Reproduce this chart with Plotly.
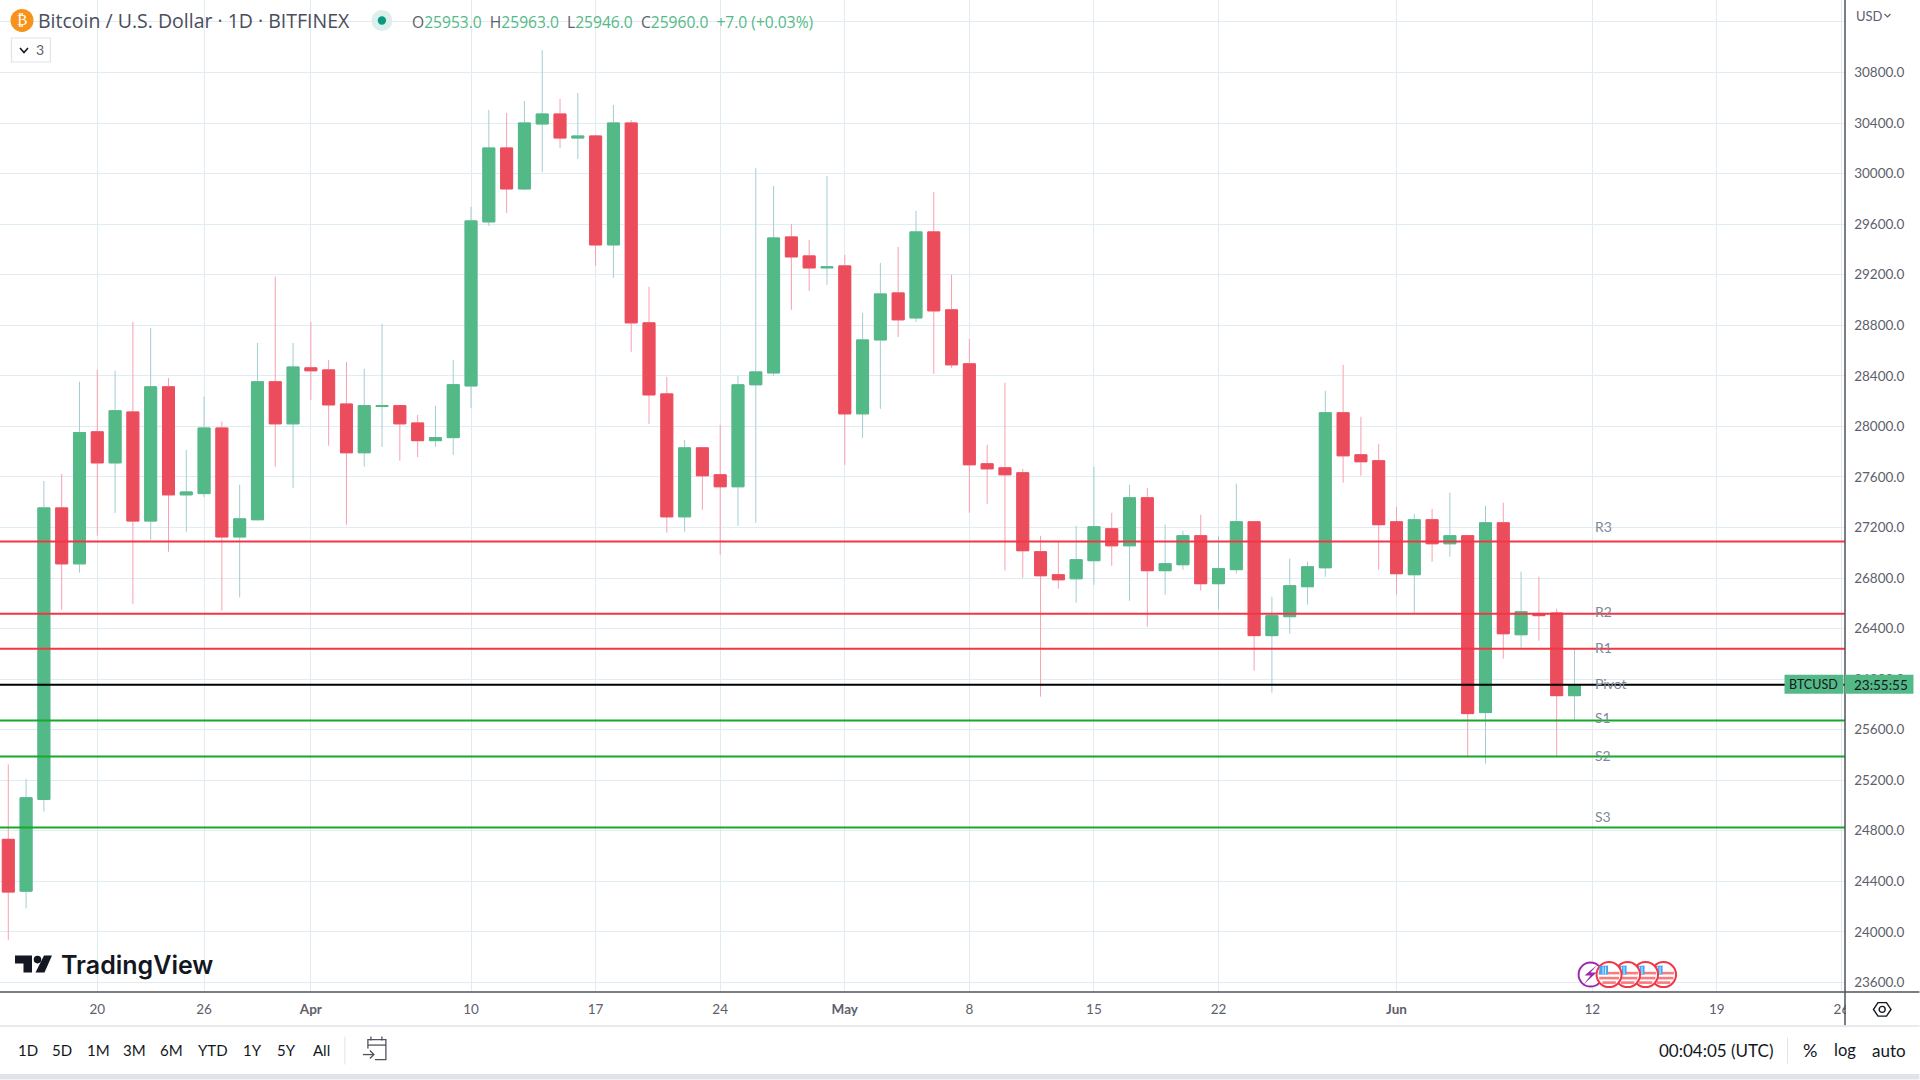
import math
import pandas as pd
import plotly.graph_objects as go

# ---------- data ----------
dates = pd.date_range("2023-03-15", periods=89).strftime("%Y-%m-%d").tolist()
opens = [24732,24322,25048,27355,26912,27957,27711,28114,27251,28313,27458,27468,27987,27125,27261,28353,28020,
         28463,28447,28177,27791,28157,28164,28027,27887,27911,28320,29618,30203,29879,30393,30472,30282,30298,29436,
         30401,28819,28257,27284,27830,27617,27522,28329,28423,29499,29349,29254,
         29270,28099,28684,29056,28858,29539,28922,28495,27704,27672,27633,27008,26826,26794,26937,27190,27055,27435,
         26858,26905,27135,26755,26866,27245,26344,26494,26731,26881,28108,27775,27728,
         27245,26826,27261,27071,27135,25735,27237,26351,26517,26523,25869]
highs = [25324,25211,27568,27624,28353,28447,28440,28826,28780,28383,27814,28234,28037,27538,28660,29185,28660,
         28826,28526,28510,28457,28810,28170,28090,28164,28526,29739,30504,30480,30575,30978,30591,30638,30306,30543,
         30425,29104,28392,27893,27830,28012,28400,30045,29903,29602,29475,29982,
         29357,28898,29294,29420,29705,29855,29199,28692,27854,28345,27664,27134,27087,27214,27680,27316,27538,27514,
         27222,27174,27300,27135,27546,27245,26652,26953,26929,28282,28487,28076,27862,
         27364,27309,27348,27475,27142,27372,27395,26850,26810,26557,26241]
lows = [23935,24186,24951,26549,26842,27135,27315,26596,27102,27008,27165,27441,26542,26646,27255,27681,27514,
        28210,27847,27222,27681,27837,27728,27757,27837,27774,28147,29586,29689,29870,30013,30203,30116,29270,29175,
        28590,28020,27158,27166,27340,26984,27213,27237,28400,28922,29072,29120,
        27696,27909,28139,28708,28827,28416,28463,27316,27387,26860,26802,25861,26715,26604,26747,26897,26620,26415,
        26668,26866,26700,26549,26834,26067,25893,26359,26589,26810,27554,27609,26866,
        26668,26525,26929,26968,25386,25331,26161,26248,26304,25386,25679]
closes = [24315,25061,27355,26912,27951,27711,28124,27251,28313,27458,27481,27987,27125,27268,28353,28020,28470,
          28440,28170,27791,28164,28164,28020,27887,27911,28330,29626,30203,29879,30401,30472,30282,30298,29436,30401,
          28819,28249,27284,27830,27609,27522,28329,28431,29491,29341,29254,29262,
          28099,28684,29048,28843,29539,28914,28487,27696,27664,27617,27016,26818,26786,26945,27206,27055,27435,26858,
          26913,27135,26755,26874,27245,26344,26502,26739,26889,28108,27767,27720,27222,
          26834,27261,27071,27135,25727,27237,26359,26533,26502,25869,25956]

level_names = ["R3", "R2", "R1", "Pivot", "S1", "S2", "S3"]
level_values = [27088, 26517, 26240, 25956, 25672, 25388, 24826]
level_label_values = [27205, 26535, 26250, 25966, 25700, 25394, 24915]
level_colors = ["#f23645", "#f23645", "#f23645", "#000000", "#18a82a", "#18a82a", "#18a82a"]

price_ticks = [23600,24000,24400,24800,25200,25600,26000,26400,26800,27200,27600,28000,28400,28800,29200,29600,30000,30400,30800,31200]
price_labels = [f"{p}.0" for p in price_ticks[:-1]] + [""]
date_ticks = ["2023-03-20","2023-03-26","2023-04-01","2023-04-10","2023-04-17","2023-04-24","2023-05-01","2023-05-08",
              "2023-05-15","2023-05-22","2023-06-01","2023-06-12","2023-06-19","2023-06-26"]
date_labels = ["20","26","<b>Apr</b>","10","17","24","<b>May</b>","8","15","22","<b>Jun</b>","12","19","26"]
range_buttons = ["1D","5D","1M","3M","6M","YTD","1Y","5Y","All"]
range_button_x = [28,62.5,99,135,172,213,253,287,322]

x_range = ["2023-03-14 12:49", "2023-06-26 04:48"]
y_range = [23524, 31374]

GREEN, RED = "#53b987", "#ec4d5d"
WICK_G, WICK_R = "#a3cdd1", "#f8a0ae"
FONT = "Lato"
GREY = "#5d606b"
DARK = "#131722"

# ---------- pixel helpers for page furniture ----------
PW, PH = 1845.5, 992.4
px = lambda x: x / PW
py = lambda y: 1 - y / PH

shapes = []
ann = []

def rect(x0, y0, x1, y1, fill, line=None, lw=0):
    shapes.append(dict(type="rect", xref="paper", yref="paper", x0=px(x0), x1=px(x1), y0=py(y0), y1=py(y1),
                       fillcolor=fill, line=dict(color=line or fill, width=lw), layer="above"))

def seg(x0, y0, x1, y1, color, lw=1):
    shapes.append(dict(type="line", xref="paper", yref="paper", x0=px(x0), x1=px(x1), y0=py(y0), y1=py(y1),
                       line=dict(color=color, width=lw), layer="above"))

def circ(cx, cy, r, fill, line=None, lw=0):
    shapes.append(dict(type="circle", xref="paper", yref="paper", x0=px(cx-r), x1=px(cx+r), y0=py(cy-r), y1=py(cy+r),
                       fillcolor=fill, line=dict(color=line or fill, width=lw), layer="above"))

def poly(pts, fill=None, line=None, lw=0, close=True):
    d = "M" + " L".join(f"{px(a):.6f},{py(b):.6f}" for a, b in pts) + (" Z" if close else "")
    shapes.append(dict(type="path", xref="paper", yref="paper", path=d, fillcolor=fill or "rgba(0,0,0,0)",
                       line=dict(color=line or "rgba(0,0,0,0)", width=lw), layer="above"))

def text(x, y, s, size=14, color=GREY, anchor="center", family=FONT, weight=None):
    f = dict(size=size, color=color, family=family)
    if weight:
        f["weight"] = weight
    ann.append(dict(xref="paper", yref="paper", x=px(x), y=py(y), text=s, showarrow=False, xanchor=anchor,
                    yanchor="middle", font=f, borderpad=0, borderwidth=0))

# ---------- figure ----------
fig = go.Figure()
fig.add_trace(go.Candlestick(x=dates, open=opens, high=highs, low=lows, close=closes,
                             increasing=dict(line=dict(color=WICK_G, width=1), fillcolor=WICK_G),
                             decreasing=dict(line=dict(color=WICK_R, width=1), fillcolor=WICK_R),
                             hoverinfo="skip", showlegend=False))
body_hi = [max(a, b) for a, b in zip(opens, closes)]
body_lo = [min(a, b) for a, b in zip(opens, closes)]
fig.add_trace(go.Candlestick(x=dates, open=opens, high=body_hi, low=body_lo, close=closes,
                             increasing=dict(line=dict(color=GREEN, width=1), fillcolor=GREEN),
                             decreasing=dict(line=dict(color=RED, width=1), fillcolor=RED),
                             hoverinfo="skip", showlegend=False))
for name, val, col in zip(level_names, level_values, level_colors):
    fig.add_trace(go.Scatter(x=x_range, y=[val, val], mode="lines", name=name, line=dict(color=col, width=2),
                             hoverinfo="skip", showlegend=False))
for name, val in zip(level_names, level_label_values):
    ann.append(dict(x="2023-06-12", y=val, xref="x", yref="y", text=name, showarrow=False, xanchor="left",
                    xshift=1, yanchor="middle", font=dict(size=14, color="#7c8a99", family=FONT)))

# white strip that clips the last date label at the price axis
rect(1846.5, 993.5, 1920, 1025, "#ffffff")
# axis and toolbar rules
seg(1845.5, 0, 1845.5, 1026, "#50535e", 1.5)
seg(0, 992.4, 1920, 992.4, "#50535e", 1.5)
seg(0, 1026.5, 1920, 1026.5, "#e0e3eb", 1.5)
rect(0, 1074.5, 1920, 1080, "#e0e3eb")
seg(345, 1037, 345, 1065, "#e0e3eb", 1)
seg(1788, 1038, 1788, 1064, "#e0e3eb", 1)

# header
circ(22, 20.5, 11.5, "#f7931a")
text(22, 20.5, "₿", 15, "#ffffff", family="DejaVu Sans")
text(38.5, 21, "Bitcoin / U.S. Dollar · 1D · BITFINEX", 19.5, "#4a4e59", "left", family="Open Sans")
circ(382, 20.5, 10.5, "#dcefec")
circ(382, 20.5, 4.2, "#089981")
G = GREEN
S = GREY
ohlc = (f"<span style='color:{S}'>O</span>25953.0  <span style='color:{S}'>H</span>25963.0  "
        f"<span style='color:{S}'>L</span>25946.0  <span style='color:{S}'>C</span>25960.0  +7.0 (+0.03%)").replace("  ", "&nbsp;&nbsp;")
text(412.5, 22, ohlc, 15.6, G, "left", family="Open Sans")
shapes.append(dict(type="rect", xref="paper", yref="paper", x0=px(11.5), x1=px(50.5), y0=py(38), y1=py(62),
                   fillcolor="#ffffff", line=dict(color="#e0e3eb", width=1.2), layer="above"))
poly([(20, 48), (24, 52.5), (28, 48)], None, DARK, 1.6, close=False)
text(40, 50, "3", 14, GREY)
text(1870, 16, "USD", 13, GREY)
poly([(1885, 14), (1888, 17), (1891, 14)], None, GREY, 1.2, close=False)

# price badge
rect(1785, 675, 1844, 694, GREEN)
rect(1845.5, 675, 1914, 694, GREEN)
text(1814, 684.8, "BTCUSD", 12.5, DARK)
text(1882, 684.8, "23:55:55", 13.5, DARK)

# event icons
circ(1591, 975, 12, "#ffffff", "#9c27b0", 2)
poly([(1598, 965), (1585, 976), (1591, 976), (1584, 985), (1597, 973), (1591, 973)], "#9c27b0")
for cx in [1664, 1646, 1628, 1609.5]:
    circ(cx, 975, 12.5, "#ffffff", "#f23645", 2)
    for dy in [-1.5, 3.5, 8]:
        h = math.sqrt(max(10.5**2 - dy**2, 0))
        seg(cx - h, 975 + dy, cx + h, 975 + dy, "#f77c80", 2.6)
    poly([(cx - 9.5, 966.5), (cx - 1, 966), (cx - 1, 975), (cx - 10, 975)], "#42a5f5")
    seg(cx - 6, 967, cx - 6, 974.5, "#ffffff", 0.8)
    seg(cx - 3.5, 967, cx - 3.5, 974.5, "#ffffff", 0.8)

# logo
poly([(15, 956), (32, 956), (32, 973), (23.5, 973), (23.5, 964), (15, 964)], DARK)
circ(37.5, 960, 3.8, DARK)
poly([(44, 956), (52, 956), (44.5, 973), (35.5, 973)], DARK)
text(61, 965, "TradingView", 25, DARK, "left", family="Inter", weight=600)

# bottom toolbar
for lab, x in zip(range_buttons, range_button_x):
    text(x, 1050.7, lab, 15, DARK)
poly([(378, 1040), (386, 1040), (386, 1060), (375, 1060)], None, "#50535e", 1.3, close=False)
poly([(368, 1049), (368, 1040), (378, 1040)], None, "#50535e", 1.3, close=False)
seg(368, 1045.5, 386, 1045.5, "#50535e", 1.3)
seg(371, 1037, 371, 1041, "#50535e", 1.3)
seg(382, 1037, 382, 1041, "#50535e", 1.3)
poly([(363, 1055), (374, 1055)], None, "#50535e", 1.3, close=False)
poly([(370, 1051), (374, 1055), (370, 1059)], None, "#50535e", 1.3, close=False)
text(1716, 1050.5, "00:04:05 (UTC)", 17, DARK)
text(1810, 1050.5, "%", 18, DARK)
text(1845.7, 1050.5, "log", 16.5, DARK)
text(1890, 1050.5, "auto", 17, DARK)
poly([(1874, 1009.8), (1878.5, 1003), (1887, 1003), (1891.5, 1009.8), (1887, 1016.5), (1878.5, 1016.5)], "#ffffff", DARK, 1.4)
circ(1882.7, 1009.8, 3, "#ffffff", DARK, 1.4)

fig.update_layout(
    width=1920, height=1080, margin=dict(l=0, r=74.5, t=0, b=87.6, pad=0, autoexpand=False),
    paper_bgcolor="#ffffff", plot_bgcolor="#ffffff", boxgap=0.326, boxgroupgap=0, showlegend=False,
    font=dict(family=FONT, color=GREY, size=13), shapes=shapes, annotations=ann,
    xaxis=dict(type="date", range=x_range, rangeslider=dict(visible=False), tickmode="array", tickvals=date_ticks,
               ticktext=date_labels, showgrid=True, gridcolor="#e1ecf2", gridwidth=1.2, showline=False, zeroline=False,
               ticks="outside", ticklen=5, tickcolor="rgba(0,0,0,0)", tickfont=dict(size=13.5, color=GREY, family=FONT)),
    yaxis=dict(range=y_range, side="right", tickmode="array", tickvals=price_ticks, ticktext=price_labels,
               showgrid=True, gridcolor="#e1ecf2", gridwidth=1.2, showline=False, zeroline=False,
               ticks="outside", ticklen=5.5, tickcolor="rgba(0,0,0,0)", tickfont=dict(size=13.5, color=GREY, family=FONT)),
)
fig.write_html("out.html", config=dict(displayModeBar=False),
               post_script="document.body.style.margin='0';document.body.style.overflow='hidden';")
